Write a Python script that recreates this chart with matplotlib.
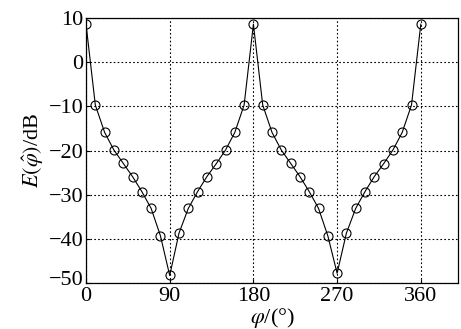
import matplotlib
matplotlib.use('Agg')
import matplotlib.pyplot as plt
from matplotlib.transforms import ScaledTranslation

# angle in degrees and normalized pattern in dB
phi = [0, 10, 20, 30, 40, 50, 60, 70, 80, 90,
       100, 110, 120, 130, 140, 150, 160, 170, 180,
       190, 200, 210, 220, 230, 240, 250, 260, 270,
       280, 290, 300, 310, 320, 330, 340, 350, 360]
e_db = [8.6, -9.7, -15.9, -19.9, -22.9, -25.9, -29.3, -33.1, -39.3, -48.3,
        -38.7, -33.1, -29.3, -25.9, -23.0, -19.9, -15.9, -9.7, 8.6,
        -9.7, -15.9, -19.9, -22.9, -25.9, -29.3, -33.1, -39.3, -47.8,
        -38.7, -33.1, -29.3, -25.9, -23.0, -19.9, -15.9, -9.7, 8.6]
xticks = [0, 90, 180, 270, 360]
yticks = [10, 0, -10, -20, -30, -40, -50]

plt.rcParams['font.family'] = ['Liberation Serif', 'DejaVu Serif']
plt.rcParams['mathtext.fontset'] = 'stix'

fig = plt.figure(figsize=(4.61, 3.29), dpi=100)
ax = fig.add_axes([0.1866, 0.1398, 0.8069, 0.8055])

ax.plot(phi, e_db, color='black', lw=0.8, marker='o', markersize=6.5,
        markerfacecolor='none', markeredgecolor='black', markeredgewidth=0.8)

ax.set_xlim(0, 400)
ax.set_ylim(-50, 10)
ax.set_xticks(xticks)
ax.set_yticks(yticks)
ax.set_yticklabels(['10', '0', '\u221210', '\u221220', '\u221230', '\u221240', '\u221250'])
ax.tick_params(direction='in', length=3, labelsize=16)
ax.tick_params(axis='x', pad=3)
ax.tick_params(axis='y', pad=2)
ax.grid(True, color='black', linestyle=(0, (1.5, 2)), linewidth=0.8)
for s in ax.spines.values():
    s.set_linewidth(0.9)

# lift the bottom y label a little, as in the source
lab = ax.get_yticklabels()[-1]
lab.set_transform(lab.get_transform() + ScaledTranslation(0, 5 / 100, fig.dpi_scale_trans))

ax.set_xlabel(r'$\varphi$/(°)', fontsize=16, labelpad=0)
ax.set_ylabel(r'$E(\hat{\varphi})$/dB', fontsize=16, labelpad=2)

fig.savefig('out.png', dpi=100)
